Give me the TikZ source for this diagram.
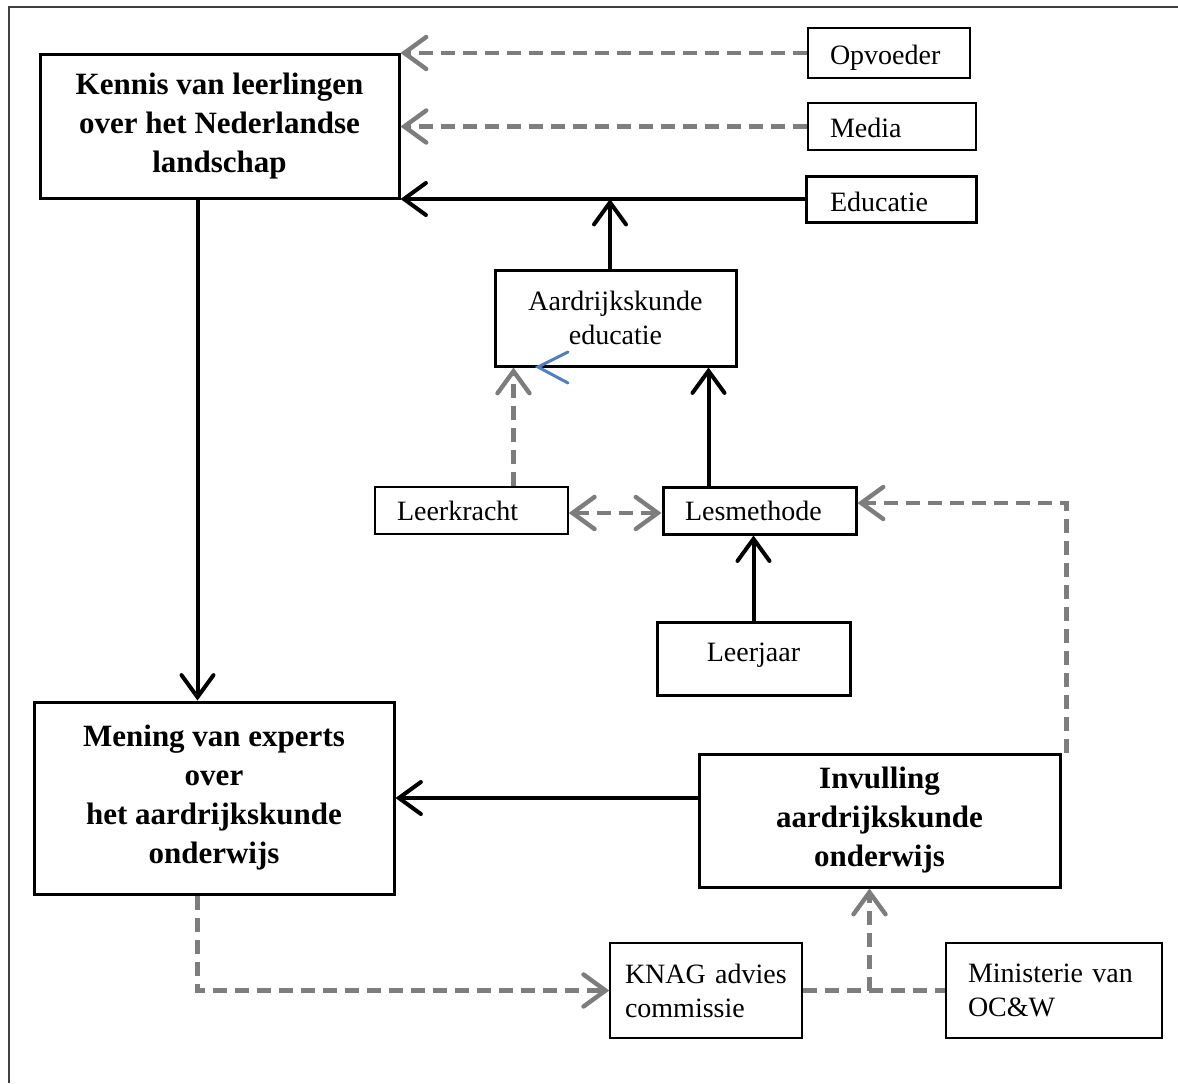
\documentclass[tikz,border=0pt]{standalone}
\usepackage{fontspec}
\setmainfont{Liberation Serif}
\usetikzlibrary{arrows.meta}
\definecolor{arrowgray}{RGB}{125,125,125}
\definecolor{officeblue}{RGB}{79,129,189}

\begin{document}
\begin{tikzpicture}[x=0.5pt, y=-0.5pt,
    mainbox/.style={draw, line width=1.5pt, align=center, inner sep=0pt,
        font=\fontsize{15.5}{19.5}\selectfont\bfseries},
    thickbox/.style={draw, line width=1.5pt, inner xsep=11pt, inner ysep=0pt,
        font=\fontsize{14}{17}\selectfont},
    thinbox/.style={draw, line width=0.75pt, inner xsep=11pt, inner ysep=0pt,
        font=\fontsize{14}{17}\selectfont},
    tip/.style={-{Straight Barb[length=11pt,width=16pt,line cap=round]}},
    twotips/.style={{Straight Barb[length=11pt,width=16pt,line cap=round]}-{Straight Barb[length=11pt,width=16pt,line cap=round]}},
    solidarrow/.style={tip, line width=2pt, black},
    dashline/.style={line width=2.2pt, arrowgray, dash pattern=on 7pt off 4pt},
    dasharrow/.style={tip, dashline}
]

\useasboundingbox (0,0) rectangle (1178,1083);

% frame
\draw[black!75, line width=0.8pt] (9,1083) -- (9,7) -- (1178,7);

% boxes
\node[mainbox, minimum width=179.5pt, minimum height=72pt] (kennis) at (219.5,126)
    {Kennis van leerlingen\\over het Nederlandse\\landschap};
\node[thinbox, text width=59pt, text height=14pt, minimum height=25pt] (opvoeder) at (889,53) {Opvoeder};
\node[thinbox, text width=62pt, text height=11.5pt, minimum height=23.5pt] (media) at (892,126.5) {Media};
\node[thickbox, text width=61pt, text height=13pt, inner xsep=12pt, minimum height=23pt] (educatie) at (891,199) {Educatie};
\node[thickbox, align=center, minimum width=120.5pt, minimum height=48pt, inner xsep=0pt] (aardrijk) at (615.5,318)
    {Aardrijkskunde\\educatie};
\node[thinbox, text width=74.5pt, minimum height=23.5pt] (leerkracht) at (471.5,510.5) {Leerkracht};
\node[thickbox, text width=74.5pt, minimum height=23.5pt] (lesmethode) at (759.5,510.5) {Lesmethode};
\node[thickbox, align=center, minimum width=96.5pt, minimum height=36.5pt, inner xsep=0pt, text depth=6pt] (leerjaar) at (753.5,658.5)
    {Leerjaar};
\node[mainbox, minimum width=180pt, minimum height=96pt] (mening) at (214,798)
    {Mening van experts\\over\\het aardrijkskunde\\onderwijs};
\node[mainbox, minimum width=180.5pt, minimum height=66.5pt] (invulling) at (879.5,820.5)
    {Invulling\\aardrijkskunde\\onderwijs};
\node[thinbox, text width=81pt, inner xsep=7.5pt, align=left, minimum height=47.5pt] (knag) at (706,990.5)
    {KNAG advies\\commissie};
\node[thinbox, text width=86pt, align=left, minimum height=47.5pt] (ministerie) at (1054,990.5)
    {Ministerie van\\OC\&W};

% helper points
\coordinate (lm) at ([xshift=-14.5pt]aardrijk.south east);
\coordinate (lk) at ([xshift=10pt]aardrijk.south west);
\coordinate (km) at ([xshift=-11pt]kennis.south);
\coordinate (ie) at ([xshift=2.5pt]invulling.north east);
\coordinate (jn) at ([xshift=-5pt]invulling.south);
\coordinate (ae) at ([xshift=-2.75pt]aardrijk.north);

% arrows into kennis
\draw[dasharrow] (opvoeder.west) -- (opvoeder.west -| kennis.east);
\draw[dasharrow] (media.west) -- (media.west -| kennis.east);
\draw[solidarrow] (educatie.west) -- (educatie.west -| kennis.east);
\draw[solidarrow] (ae) -- (ae |- educatie.west);

% middle part
\draw[solidarrow] (lm |- lesmethode.north) -- (lm);
\draw[dasharrow] (lk |- leerkracht.north) -- (lk);
\draw[dashline, twotips] ([yshift=-1.25pt]leerkracht.east) -- ([yshift=-1.25pt]lesmethode.west);
\draw[solidarrow] (leerjaar.north) -- (leerjaar.north |- lesmethode.south);
\draw[dasharrow] (ie) |- ([yshift=3.75pt]lesmethode.east);

% lower part
\draw[solidarrow] (km) -- (km |- mening.north);
\draw[solidarrow] (mening.east -| invulling.west) -- (mening.east);
\draw[dasharrow] (km |- mening.south) |- (knag.west);
\draw[dashline] (knag.east) -- (ministerie.west);
\draw[dasharrow] (jn |- knag.east) -- (jn);

% stray blue mark
\draw[officeblue, line width=1.5pt, line cap=round] (568,352) -- (538,367) -- (568,383);

\end{tikzpicture}
\end{document}
